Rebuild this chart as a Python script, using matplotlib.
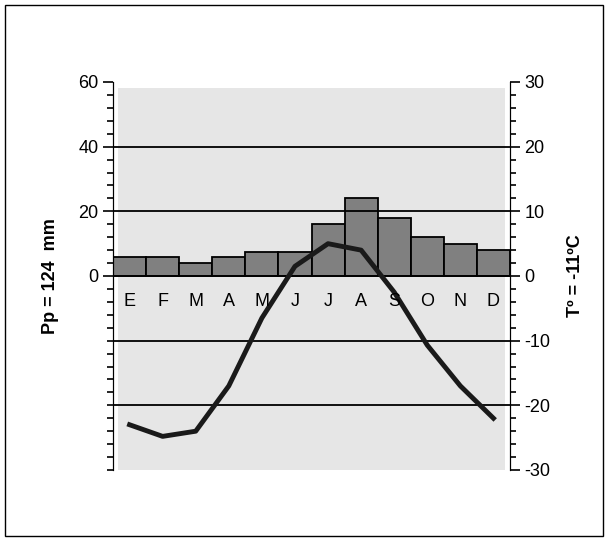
import matplotlib.pyplot as plt
import numpy as np
from matplotlib.patches import Rectangle

plt.rcParams['font.family'] = ['Liberation Sans', 'DejaVu Sans']
plt.rcParams['axes.unicode_minus'] = False

months = ['E', 'F', 'M', 'A', 'M', 'J', 'J', 'A', 'S', 'O', 'N', 'D']
precip = [6, 6, 4, 6, 7.5, 7.5, 16, 24, 18, 12, 10, 8]
temp = [-23, -24.8, -24, -17, -6.5, 1.5, 5, 4, -2.5, -10.7, -17, -22]

fig = plt.figure(figsize=(6.08, 5.41), dpi=100)
fig.patches.append(Rectangle((0.008, 0.009), 0.984, 0.981, transform=fig.transFigure,
                             fill=False, edgecolor='black', lw=1))
ax = fig.add_axes([113 / 608, 71 / 541, 397 / 608, 388 / 541])
ax2 = ax.twinx()
ax.set_xlim(0, 12)
ax.set_ylim(-30, 30)
ax.add_patch(Rectangle((0.15, -30), 11.7, 59, facecolor='#e6e6e6', edgecolor='none', zorder=0))

x = np.arange(12)
# precipitation drawn on temperature scale (P = 2T)
ax.bar(x + 0.5, np.array(precip) / 2, width=1, color='#808080', edgecolor='black', lw=1.3, zorder=2)
for yv in [20, 10, 0, -10, -20]:
    ax.axhline(yv, color='black', lw=1.3, zorder=3)
ax.plot(x + 0.5, temp, color='#1a1a1a', lw=3.5, zorder=4)
for i, m in enumerate(months):
    ax.text(i + 0.5, -4, m, ha='center', va='center', fontsize=13, zorder=5)

for a in (ax, ax2):
    for s in ['top', 'bottom']:
        a.spines[s].set_visible(False)
ax.set_xticks([])

ax.yaxis.tick_right()
ax.yaxis.set_label_position('right')
ax.set_yticks([-30, -20, -10, 0, 10, 20, 30])
ax.set_yticks(np.arange(-30, 31, 2), minor=True)
ax.tick_params(axis='y', which='major', length=7, labelsize=13, width=1.2)
ax.tick_params(axis='y', which='minor', length=4, width=1.2)
ax.set_ylabel('Tº = -11ºC', fontsize=13, fontweight='bold', labelpad=12)

ax2.set_ylim(-60, 60)
ax2.yaxis.tick_left()
ax2.yaxis.set_label_position('left')
ax2.set_yticks([0, 20, 40, 60])
ax2.set_yticks(np.arange(-60, 61, 4), minor=True)
ax2.tick_params(axis='y', which='major', length=7, labelsize=13, width=1.2)
ax2.tick_params(axis='y', which='minor', length=4, width=1.2)
ax2.set_ylabel('Pp = 124  mm', fontsize=13, fontweight='bold', labelpad=14)

fig.savefig('out.png', dpi=100)
